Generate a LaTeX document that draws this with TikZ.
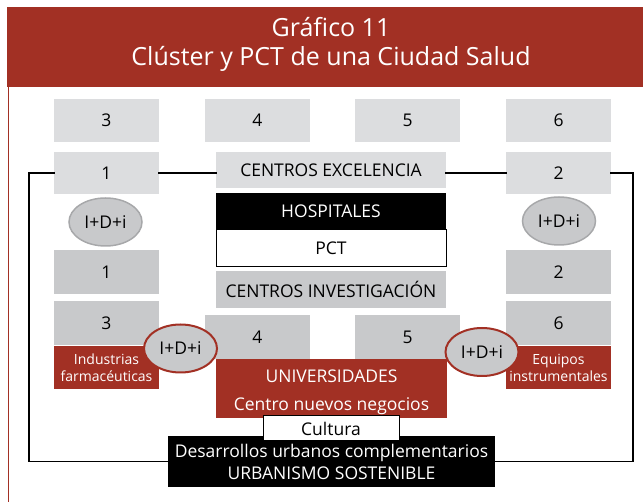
\documentclass[tikz,border=0pt]{standalone}
\usepackage{fontspec}
\setmainfont{Open Sans}
\usetikzlibrary{shapes.geometric}
\definecolor{rojo}{HTML}{A23024}
\definecolor{grisclaro}{HTML}{DCDDDF}
\definecolor{grisoscuro}{HTML}{C8C9CB}
\definecolor{grisborde}{HTML}{A7A8AA}
\tikzset{
  caja/.style={rectangle, inner sep=0pt, minimum width=105pt, font=\fontsize{17.5}{21}\selectfont},
  claro/.style={caja, fill=grisclaro, minimum height=43pt},
  oscuro/.style={caja, fill=grisoscuro, minimum height=44pt},
  centro/.style={caja, minimum width=230pt, minimum height=37pt},
  roja/.style={caja, fill=rojo, text=white, minimum height=43pt, align=center,
    font=\fontsize{14}{17}\selectfont},
  idi/.style={ellipse, inner sep=0pt, minimum width=73pt, minimum height=48pt,
    fill=grisoscuro, font=\fontsize{17.5}{21}\selectfont},
  lazo/.style={line width=1.5pt, line cap=rect}
}
\begin{document}
\begin{tikzpicture}[x=1pt, y=-1pt]
\useasboundingbox (0,0) rectangle (643,502);
\fill[rojo] (7,7) rectangle (643,87);
\draw[rojo, line width=1.5pt] (8.5,87) -- (8.5,502);
\node[text=white, anchor=base, font=\fontsize{25}{30}\selectfont] (tit1) at (331,37) {Gráfico 11};
\node[text=white, anchor=base, font=\fontsize{25}{30}\selectfont] (tit2) at (331,66) {Clúster y PCT de una Ciudad Salud};

\node[claro] (t3) at (106.5,120.5) {3};
\node[claro] (t4) at (257.5,120.5) {4};
\node[claro] (t5) at (407.5,120.5) {5};
\node[claro] (t6) at (558.5,120.5) {6};

\node[claro, minimum height=42pt] (a1) at (106.5,173) {1};
\node[claro, minimum height=42pt] (a2) at (558.5,173) {2};
\node[centro, fill=grisclaro, minimum height=36pt] (ce) at (331,170) {CENTROS EXCELENCIA};
\node[centro, fill=black, text=white] (hosp) at (331,211.5) {HOSPITALES};
\node[centro, fill=white, draw=black, line width=1pt] (pct) at (331,248.5) {PCT};
\node[centro, fill=grisoscuro] (ci) at (331,289.5) {CENTROS INVESTIGACIÓN};

\node[oscuro] (b1) at (106.5,272) {1};
\node[oscuro] (b2) at (558.5,272) {2};
\node[oscuro] (c3) at (106.5,323) {3};
\node[oscuro] (c6) at (558.5,323) {6};
\node[oscuro] (c4) at (257.5,337) {4};
\node[oscuro] (c5) at (407.5,337) {5};
\node[roja] (ind) at (106.5,367.5) {Industrias\\farmacéuticas};
\node[roja] (equ) at (558.5,367.5) {Equipos\\instrumentales};

\node[caja, fill=rojo, text=white, minimum width=231pt, minimum height=59pt, align=center,
  font=\fontsize{17.5}{28}\selectfont] (univ) at (331.5,388.5) {\rule{0pt}{21pt}UNIVERSIDADES\\Centro nuevos negocios};
\node[caja, fill=black, text=white, minimum width=327pt, minimum height=51pt, align=center,
  font=\fontsize{17.5}{22}\selectfont] (urb) at (331.5,461.5) {Desarrollos urbanos complementarios\\URBANISMO SOSTENIBLE};
\node[caja, fill=white, draw=black, line width=1pt, minimum width=136pt, minimum height=25pt] (cult) at (331,428.5) {Cultura};

\draw[lazo] (a1.west) -- ++(-25,0) |- (urb.west);
\draw[lazo] (a2.east) -- ++(22,0) |- (urb.east);
\draw[lazo] (a1.east) -- (ce.west |- a1.east);
\draw[lazo] (ce.east |- a2.west) -- (a2.west);

\node[idi, draw=grisborde, line width=1.5pt] (e1) at (105.5,222) {I+D+i};
\node[idi, draw=grisborde, line width=1.5pt] (e2) at (559,221) {I+D+i};
\node[idi, draw=rojo, line width=2pt] (e3) at (180.5,348.5) {I+D+i};
\node[idi, draw=rojo, line width=2pt] (e4) at (482,352) {I+D+i};
\end{tikzpicture}
\end{document}
